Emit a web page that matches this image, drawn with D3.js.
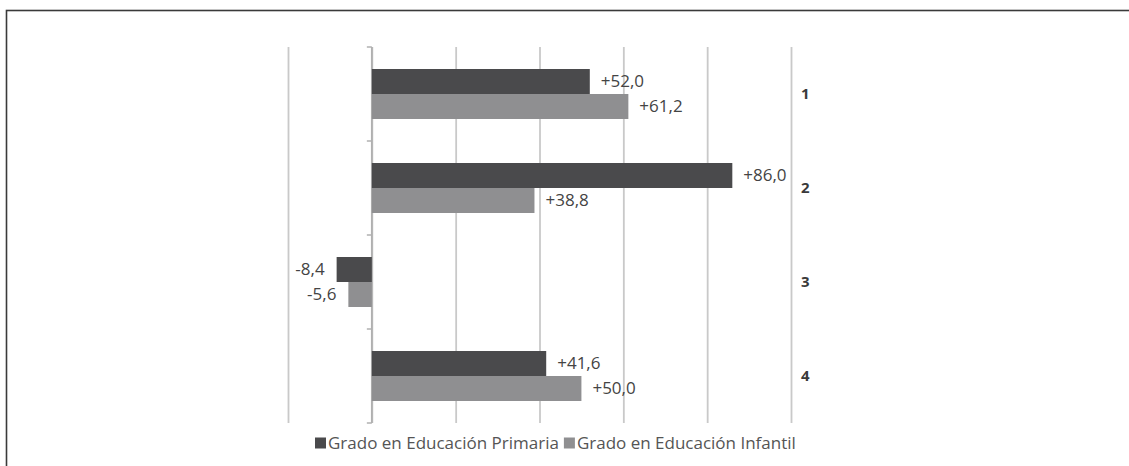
<!DOCTYPE html>
<html>
<head>
<meta charset="utf-8">
<script src="https://cdn.jsdelivr.net/npm/d3@7"></script>
<style>
  body { margin: 0; background: #fff; }
  svg { display: block; }
</style>
</head>
<body>
<div id="chart"></div>
<script>
var categories = ["1", "2", "3", "4"];
var primaria = [52.0, 86.0, -8.4, 41.6];
var infantil = [61.2, 38.8, -5.6, 50.0];
var seriesNames = ["Grado en Educación Primaria", "Grado en Educación Infantil"];
var xTicks = [-20, 0, 20, 40, 60, 80, 100];

var W = 1129, H = 466;
var font = "'Open Sans', sans-serif";
var darkCol = "#4a4a4c", lightCol = "#8f8f91";

var svg = d3.select("#chart").append("svg")
    .attr("width", W)
    .attr("height", H);

// frame around the figure
svg.append("rect")
    .attr("x", 6.5).attr("y", 10.5)
    .attr("width", W).attr("height", H)
    .attr("fill", "none")
    .attr("stroke", "#3a3a3a")
    .attr("stroke-width", 1.6);

var x = d3.scaleLinear().domain([-20, 100]).range([288, 791]);
var y = d3.scaleBand().domain(categories).range([47, 423]);
var barH = 25;

// vertical gridlines
svg.append("g")
    .attr("transform", "translate(0,423)")
    .call(d3.axisBottom(x).tickValues(xTicks).tickSize(-376).tickFormat(""))
    .call(function (g) { g.select(".domain").remove(); })
    .selectAll(".tick line")
    .attr("stroke", "#c9c9c9")
    .attr("stroke-width", 1.8);

// zero axis with category ticks
var yAxis = svg.append("g")
    .attr("transform", "translate(" + x(0) + ",0)");
yAxis.append("line")
    .attr("x1", 0).attr("x2", 0)
    .attr("y1", 47).attr("y2", 423)
    .attr("stroke", "#b0b0b0")
    .attr("stroke-width", 1.8);
yAxis.selectAll(".ytick")
    .data(categories.concat(["end"]))
    .enter().append("line")
    .attr("x1", -5).attr("x2", 0)
    .attr("y1", function (d, i) { return 47 + i * y.step(); })
    .attr("y2", function (d, i) { return 47 + i * y.step(); })
    .attr("stroke", "#b0b0b0")
    .attr("stroke-width", 1.5);

// category labels on the right
svg.selectAll(".cat")
    .data(categories)
    .enter().append("text")
    .attr("x", 801)
    .attr("y", function (d) { return y(d) + y.bandwidth() / 2; })
    .attr("dy", "0.35em")
    .attr("font-family", font)
    .attr("font-size", "15px")
    .attr("font-weight", "700")
    .attr("fill", "#3a3a3a")
    .text(function (d) { return d; });

var fmt = function (v) {
    return (v > 0 ? "+" : "") + v.toFixed(1).replace(".", ",");
};

var series = [
    { name: seriesNames[0], values: primaria, color: darkCol, off: 0 },
    { name: seriesNames[1], values: infantil, color: lightCol, off: 1 }
];

series.forEach(function (s) {
    var g = svg.append("g");
    var yPos = function (d, i) {
        return y(categories[i]) + y.bandwidth() / 2 - barH + s.off * barH;
    };
    g.selectAll("rect")
        .data(s.values)
        .enter().append("rect")
        .attr("x", function (d) { return x(Math.min(0, d)); })
        .attr("y", yPos)
        .attr("width", function (d) { return Math.abs(x(d) - x(0)); })
        .attr("height", barH)
        .attr("fill", s.color);
    g.selectAll("text")
        .data(s.values)
        .enter().append("text")
        .attr("x", function (d) { return d >= 0 ? x(d) + 11 : x(d) - 12; })
        .attr("y", function (d, i) { return yPos(d, i) + barH / 2; })
        .attr("dy", "0.35em")
        .attr("text-anchor", function (d) { return d >= 0 ? "start" : "end"; })
        .attr("font-family", font)
        .attr("font-size", "17px")
        .attr("fill", "#444")
        .text(fmt);
});

// legend
var legend = svg.append("g").attr("transform", "translate(315,443)");
var lx = 0;
series.forEach(function (s) {
    legend.append("rect")
        .attr("x", lx).attr("y", -5.5)
        .attr("width", 11).attr("height", 11)
        .attr("fill", s.color);
    var t = legend.append("text")
        .attr("x", lx + 13)
        .attr("y", 0)
        .attr("dy", "0.35em")
        .attr("font-family", font)
        .attr("font-size", "17px")
        .attr("fill", "#555")
        .text(s.name);
    lx += 13 + t.node().getComputedTextLength() + 5;
});
</script>
</body>
</html>
